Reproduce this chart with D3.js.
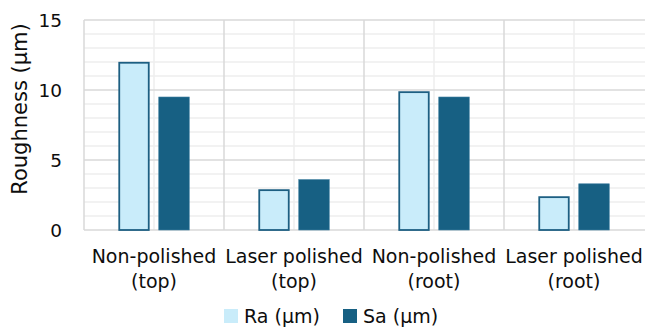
<!DOCTYPE html>
<html>
<head>
<meta charset="utf-8">
<script src="https://cdn.jsdelivr.net/npm/d3@7"></script>
<style>
  html, body { margin: 0; padding: 0; background: #fff; }
  svg { display: block; font-family: "DejaVu Sans", sans-serif; }
</style>
</head>
<body>
<svg id="chart" width="645" height="329"></svg>
<script>
// Surface roughness per sample condition
const categories = [
  ["Non-polished", "(top)"],
  ["Laser polished", "(top)"],
  ["Non-polished", "(root)"],
  ["Laser polished", "(root)"]
];
const seriesNames = ["Ra (μm)", "Sa (μm)"];
const raValues = [12.0, 2.9, 9.9, 2.4];
const saValues = [9.5, 3.6, 9.5, 3.3];
const yTicks = [0, 5, 10, 15];

const colors = { "Ra (μm)": "#c9ecfa", "Sa (μm)": "#176083" };
const strokes = { "Ra (μm)": "#1d5f82", "Sa (μm)": "#3f7fa0" };
const textColor = "#0d0d0d";

const svg = d3.select("#chart");
const margin = { left: 84, right: 1, top: 20, bottom: 99 };
const W = 645, H = 329;

const catKeys = categories.map((c, i) => i);
const x0 = d3.scaleBand().domain(catKeys).range([margin.left, W - margin.right]).padding(0);
const x1 = d3.scaleBand().domain(seriesNames).range([0, x0.bandwidth()])
  .paddingInner(0.225).paddingOuter(0.8625);
const y = d3.scaleLinear().domain([0, 15]).range([H - margin.bottom, margin.top]);

const grid = svg.append("g");
// minor horizontal gridlines every 1 unit
grid.selectAll("line.hmin").data(d3.range(0, 16).filter(v => v % 5 !== 0)).join("line")
  .attr("x1", margin.left).attr("x2", W).attr("y1", d => y(d)).attr("y2", d => y(d))
  .attr("stroke", "#eeeeee").attr("stroke-width", 1.5);
// minor vertical gridlines at category centres
grid.selectAll("line.vmin").data(catKeys).join("line")
  .attr("x1", d => x0(d) + x0.bandwidth() / 2).attr("x2", d => x0(d) + x0.bandwidth() / 2)
  .attr("y1", y(15)).attr("y2", y(0))
  .attr("stroke", "#eeeeee").attr("stroke-width", 1.5);
// major vertical gridlines at category boundaries
grid.selectAll("line.vmaj").data(catKeys).join("line")
  .attr("x1", d => x0(d)).attr("x2", d => x0(d))
  .attr("y1", y(15)).attr("y2", y(0))
  .attr("stroke", "#d9d9d9").attr("stroke-width", 1.5);
// major horizontal gridlines
grid.selectAll("line.hmaj").data(yTicks).join("line")
  .attr("x1", margin.left).attr("x2", W).attr("y1", d => y(d)).attr("y2", d => y(d))
  .attr("stroke", "#d9d9d9").attr("stroke-width", 1.5);

// bars
const rows = catKeys.map(i => ({ i, values: [
  { key: seriesNames[0], v: raValues[i] },
  { key: seriesNames[1], v: saValues[i] }
]}));

const groups = svg.append("g").selectAll("g").data(rows).join("g")
  .attr("transform", d => `translate(${x0(d.i)},0)`);
groups.selectAll("rect").data(d => d.values).join("rect")
  .attr("x", d => x1(d.key) + (d.key === seriesNames[0] ? 0.75 : 0.25))
  .attr("width", d => x1.bandwidth() - (d.key === seriesNames[0] ? 1.5 : 0.5))
  .attr("y", d => y(d.v) + (d.key === seriesNames[0] ? 0.75 : 0))
  .attr("height", d => y(0) - y(d.v) - (d.key === seriesNames[0] ? 0.75 : 0))
  .attr("fill", d => colors[d.key])
  .attr("stroke", d => strokes[d.key])
  .attr("stroke-width", d => d.key === seriesNames[0] ? 1.8 : 0.6);

// y axis tick labels
const yAxis = d3.axisLeft(y).tickValues(yTicks).tickSize(0).tickPadding(0).tickFormat(d3.format("d"));
const ya = svg.append("g").attr("transform", `translate(62,0)`).call(yAxis);
ya.select(".domain").remove();
ya.selectAll("text").attr("font-family", "DejaVu Sans, sans-serif")
  .attr("font-size", 18.5).attr("fill", textColor).attr("dy", "0.36em");

// y axis title
svg.append("text")
  .attr("transform", "translate(27,109) rotate(-90)")
  .attr("text-anchor", "middle")
  .attr("font-size", 21).attr("fill", textColor)
  .text("Roughness (μm)");

// category labels
const xa = svg.append("g");
xa.selectAll("text").data(catKeys).join("text")
  .attr("x", d => x0(d) + x0.bandwidth() / 2)
  .attr("y", 263)
  .attr("text-anchor", "middle")
  .attr("font-size", 19).attr("fill", textColor)
  .each(function(d) {
    const t = d3.select(this);
    t.append("tspan").attr("x", x0(d) + x0.bandwidth() / 2).text(categories[d][0]);
    t.append("tspan").attr("x", x0(d) + x0.bandwidth() / 2).attr("dy", 25).text(categories[d][1]);
  });

// legend
const legendX = [224, 343];
const legend = svg.append("g").selectAll("g").data(seriesNames).join("g")
  .attr("transform", (d, i) => `translate(${legendX[i]},309)`);
legend.append("rect").attr("width", 14).attr("height", 14).attr("fill", d => colors[d]);
legend.append("text").attr("x", 20).attr("y", 14)
  .attr("font-size", 19).attr("fill", textColor).text(d => d);
</script>
</body>
</html>
